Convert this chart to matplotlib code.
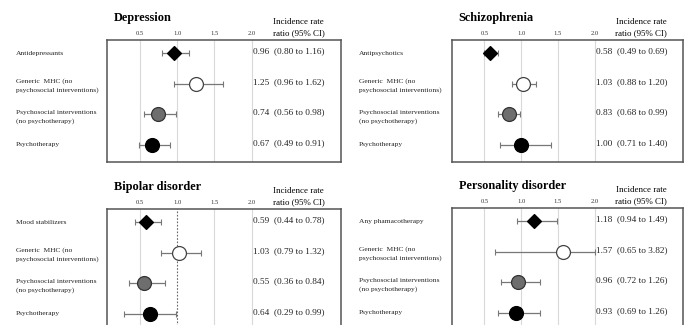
import numpy as np
import matplotlib.pyplot as plt
import matplotlib.transforms as mtrans

plt.rcParams['font.family'] = ['Liberation Serif', 'DejaVu Serif']

# data
titles = ['Depression', 'Schizophrenia', 'Bipolar disorder', 'Personality disorder']
first_rows = ['Antidepressants', 'Antipsychotics', 'Mood stabilizers', 'Any phamacotherapy']
other_rows = ['Generic  MHC (no\npsychosocial interventions)',
              'Psychosocial interventions\n(no psychotherapy)',
              'Psychotherapy']

irr = [[0.96, 1.25, 0.74, 0.67],
       [0.58, 1.03, 0.83, 1.00],
       [0.59, 1.03, 0.55, 0.64],
       [1.18, 1.57, 0.96, 0.93]]
ci_low = [[0.80, 0.96, 0.56, 0.49],
          [0.49, 0.88, 0.68, 0.71],
          [0.44, 0.79, 0.36, 0.29],
          [0.94, 0.65, 0.72, 0.69]]
ci_high = [[1.16, 1.62, 0.98, 0.91],
           [0.69, 1.20, 0.99, 1.40],
           [0.78, 1.32, 0.84, 0.99],
           [1.49, 3.82, 1.26, 1.26]]
ticks = [0.5, 1.0, 1.5, 2.0]
tick_labels = ['0.5', '1.0', '1.5', '2.0']

W, H = 684, 325
fig = plt.figure(figsize=(W / 100, H / 100), dpi=100)

# box positions in pixels: left, top, right
boxes = [(107, 40, 341), (452, 40, 683), (107, 209, 341), (452, 208, 683)]
box_h = 122
label_x = [16, 359, 16, 359]

styles = [dict(marker='D', ms=7.5, mfc='black', mec='black'),
          dict(marker='o', ms=10, mfc='white', mec='#444444'),
          dict(marker='o', ms=10, mfc='#6e6e6e', mec='#333333'),
          dict(marker='o', ms=10, mfc='black', mec='black')]

for p in range(4):
    l, t, r = boxes[p]
    ax = fig.add_axes([l / W, 1 - (t + box_h) / H, (r - l) / W, box_h / H])
    ax.set_xlim(0.06, 3.2)
    ax.set_ylim(3.57, -0.43)
    for x in ticks:
        if p == 2 and x == 1.0:
            ax.axvline(x, color='#666666', lw=0.8, ls=(0, (1.5, 1.5)), zorder=1)
        else:
            ax.axvline(x, color='#d9d9d9', lw=0.8, zorder=1)
    rows = [first_rows[p]] + other_rows
    tr = mtrans.blended_transform_factory(fig.transFigure, ax.transData)
    for i in range(4):
        hi = min(ci_high[p][i], 2.0)
        ax.errorbar(irr[p][i], i, xerr=[[irr[p][i] - ci_low[p][i]], [hi - irr[p][i]]],
                    fmt='none', ecolor='#777777', elinewidth=0.9, capsize=2, capthick=0.8, zorder=2)
        ax.plot(irr[p][i], i, ls='none', mew=0.9, zorder=3, **styles[i])
        ax.text(2.02, i - 0.05, f'{irr[p][i]:.2f}  ({ci_low[p][i]:.2f} to {ci_high[p][i]:.2f})',
                fontsize=6.7, va='center', ha='left', color='#222222')
        dy = 0.08 if '\n' in rows[i] else 0
        ax.text(label_x[p] / W, i + dy, rows[i], transform=tr, fontsize=5.4, va='center',
                ha='left', linespacing=1.75, color='#222222')
    ax.set_yticks([])
    ax.xaxis.tick_top()
    ax.set_xticks(ticks)
    ax.set_xticklabels(tick_labels, fontsize=4.7, color='#333333')
    ax.tick_params(axis='x', length=0, pad=3)
    for s in ax.spines.values():
        s.set_color('#555555')
        s.set_linewidth(1.1)
    xt = ax.get_xaxis_transform()
    ax.text(0.15, 1.18, titles[p], transform=xt, fontsize=8.8, fontweight='bold',
            va='center', ha='left')
    ax.text(2.63, 1.145, 'Incidence rate', transform=xt, fontsize=6.4, va='center', ha='center')
    ax.text(2.63, 1.055, 'ratio (95% CI)', transform=xt, fontsize=6.4, va='center', ha='center')

fig.savefig('out.png', dpi=100)
